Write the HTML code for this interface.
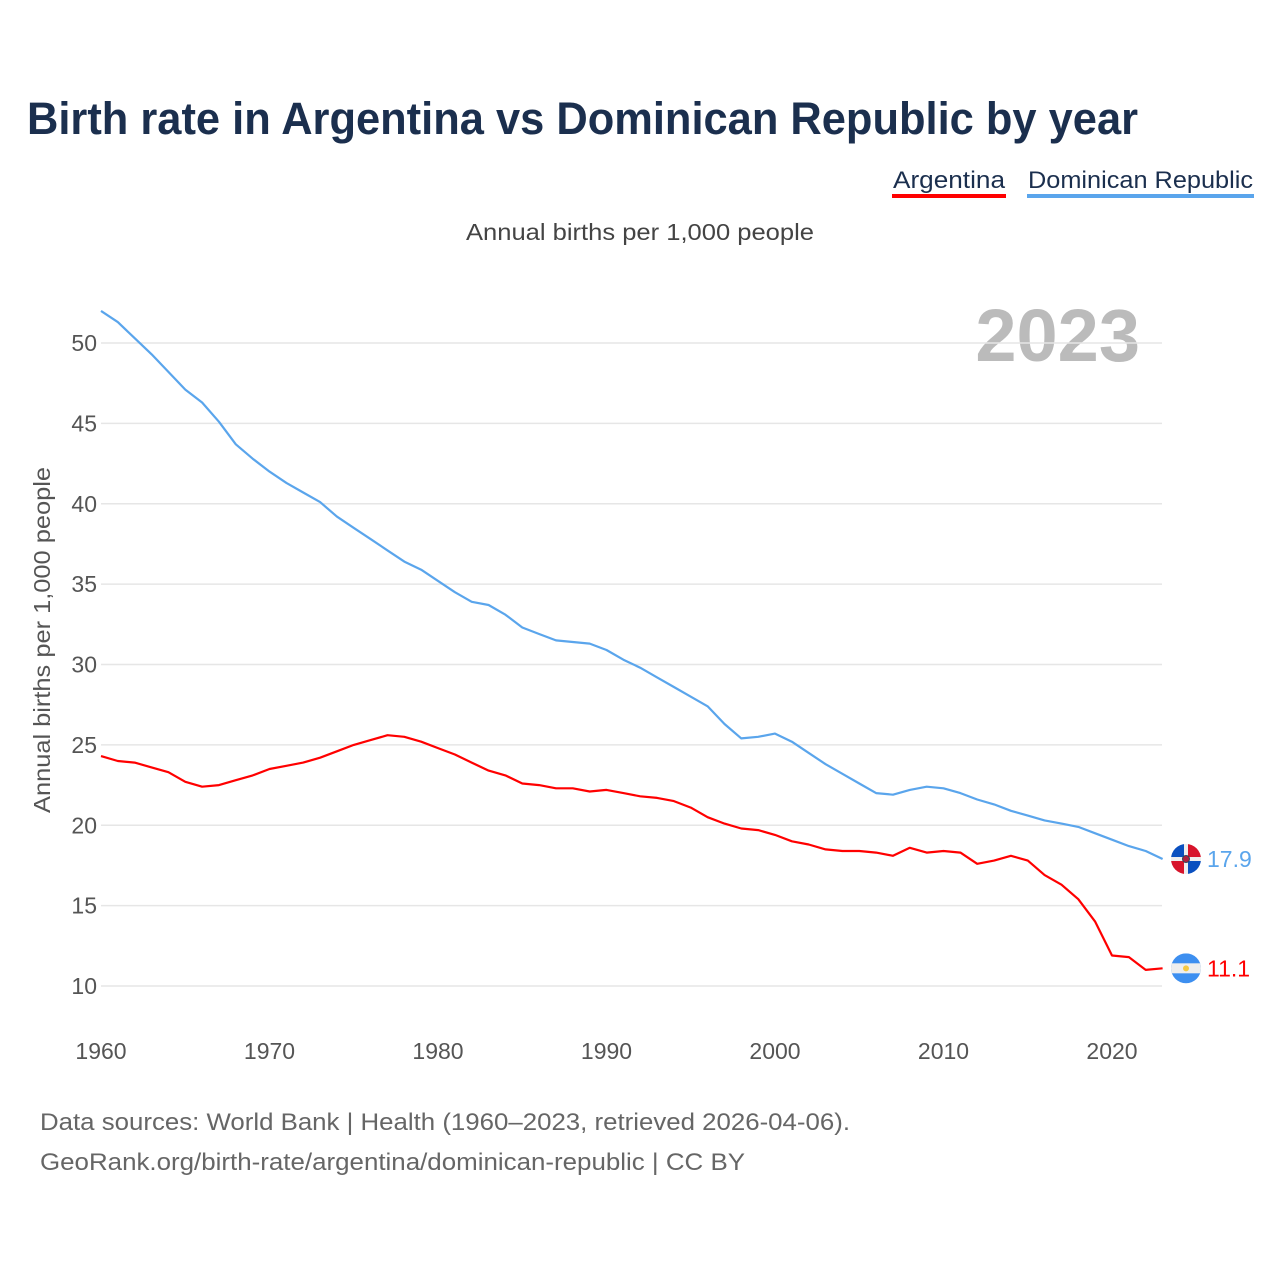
<!DOCTYPE html>
<html><head><meta charset="utf-8">
<style>
body{margin:0;background:#fff;font-family:"Liberation Sans",sans-serif;}
svg text{font-family:"Liberation Sans",sans-serif;}
</style></head>
<body>
<svg width="1280" height="1280" xmlns="http://www.w3.org/2000/svg">
<defs><clipPath id="fc1"><circle cx="1186" cy="0" r="15"/></clipPath></defs>
<text x="27" y="134" font-size="45" font-weight="bold" fill="#1b2f4e" textLength="1111" lengthAdjust="spacingAndGlyphs">Birth rate in Argentina vs Dominican Republic by year</text>
<g>
<text x="893" y="188" font-size="24" fill="#1b2f4e" textLength="112" lengthAdjust="spacingAndGlyphs">Argentina</text>
<rect x="892" y="194" width="114" height="4" fill="#ff0000"/></g>
<g>
<text x="1028" y="188" font-size="24" fill="#1b2f4e" textLength="225" lengthAdjust="spacingAndGlyphs">Dominican Republic</text>
<rect x="1027" y="194" width="227" height="4" fill="#5aa5ec"/></g>
<text x="466" y="240" font-size="23" fill="#444" textLength="348" lengthAdjust="spacingAndGlyphs">Annual births per 1,000 people</text>
<text x="1140" y="361" font-size="74" font-weight="bold" fill="#bbb" text-anchor="end">2023</text>
<text transform="translate(50,640) rotate(-90)" font-size="23" fill="#555" text-anchor="middle" textLength="346" lengthAdjust="spacingAndGlyphs">Annual births per 1,000 people</text>
<g id="grid"></g><g id="xt"></g><g id="lines"></g>
<g>
<text x="40" y="1130" font-size="24" fill="#666" textLength="810" lengthAdjust="spacingAndGlyphs">Data sources: World Bank | Health (1960–2023, retrieved 2026-04-06).</text>
<text x="40" y="1170" font-size="24" fill="#666" textLength="705" lengthAdjust="spacingAndGlyphs">GeoRank.org/birth-rate/argentina/dominican-republic | CC BY</text></g>
</svg>
<script>
const years=[];for(let y=1960;y<=2023;y++)years.push(y);
const yTicks=[10,15,20,25,30,35,40,45,50];
const xTicks=[1960,1970,1980,1990,2000,2010,2020];
const argentina=[24.3,24.0,23.9,23.6,23.3,22.7,22.4,22.5,22.8,23.1,23.5,23.7,23.9,24.2,24.6,25.0,25.3,25.6,25.5,25.2,24.8,24.4,23.9,23.4,23.1,22.6,22.5,22.3,22.3,22.1,22.2,22.0,21.8,21.7,21.5,21.1,20.5,20.1,19.8,19.7,19.4,19.0,18.8,18.5,18.4,18.4,18.3,18.1,18.6,18.3,18.4,18.3,17.6,17.8,18.1,17.8,16.9,16.3,15.4,14.0,11.9,11.8,11.0,11.1];
const dominican=[52.0,51.3,50.3,49.3,48.2,47.1,46.3,45.1,43.7,42.8,42.0,41.3,40.7,40.1,39.2,38.5,37.8,37.1,36.4,35.9,35.2,34.5,33.9,33.7,33.1,32.3,31.9,31.5,31.4,31.3,30.9,30.3,29.8,29.2,28.6,28.0,27.4,26.3,25.4,25.5,25.7,25.2,24.5,23.8,23.2,22.6,22.0,21.9,22.2,22.4,22.3,22.0,21.6,21.3,20.9,20.6,20.3,20.1,19.9,19.5,19.1,18.7,18.4,17.9];
const NS="http://www.w3.org/2000/svg";
const X=y=>101+(y-1960)*(1011/60);
const Y=v=>986-(v-10)*(643/40);
function mk(t,a,p){const e=document.createElementNS(NS,t);for(const k in a)e.setAttribute(k,a[k]);p.appendChild(e);return e;}
const grid=document.getElementById('grid');
yTicks.forEach(v=>{
 const l=mk('line',{x1:101,x2:1162,y1:Y(v),y2:Y(v),stroke:'#e6e6e6','stroke-width':1.5},grid);
 
 
 const t=mk('text',{x:97,y:Y(v)+8,'font-size':23,fill:'#555','text-anchor':'end'},grid);
 t.textContent=v;
 
 
});
const xt=document.getElementById('xt');
xTicks.forEach(v=>{
 const t=mk('text',{x:X(v),y:1059,'font-size':23,fill:'#555','text-anchor':'middle'},xt);
 t.textContent=v;
 
 
});
const lines=document.getElementById('lines');
function series(data,color,name){
 const d=data.map((v,i)=>(i?'L':'M')+X(years[i]).toFixed(1)+' '+Y(v).toFixed(1)).join(' ');
 const p=mk('path',{d:d,fill:'none',stroke:color,'stroke-width':2.2,'stroke-linejoin':'round'},lines);
 
 
 const last=data[data.length-1];
 const cy=Y(last);
 const g=mk('g',{transform:`translate(0,${cy})`},lines);
 
 
 const c=mk('g',{'clip-path':'url(#fc1)'},g);
 if(name==='argentina'){
  mk('rect',{x:1171,y:-15,width:30,height:30,fill:'#3d8ff0'},c);
  mk('rect',{x:1171,y:-5,width:30,height:10,fill:'#eee'},c);
  mk('circle',{cx:1186,cy:0,r:3,fill:'#f5c842'},c);
 }else{
  mk('rect',{x:1171,y:-15,width:30,height:30,fill:'#eee'},c);
  mk('rect',{x:1171,y:-15,width:13,height:13,fill:'#0a50c0'},c);
  mk('rect',{x:1188,y:-15,width:13,height:13,fill:'#d7142b'},c);
  mk('rect',{x:1171,y:2,width:13,height:13,fill:'#d7142b'},c);
  mk('rect',{x:1188,y:2,width:13,height:13,fill:'#0a50c0'},c);
  mk('circle',{cx:1186,cy:0,r:3.5,fill:'#b02040',stroke:'#345','stroke-width':1},c);
 }
 const t=mk('text',{x:1207,y:cy+8,'font-size':23,fill:color},lines);
 t.textContent=last.toFixed(1);
 
 
}
series(dominican,'#5aa5ec','dominican-republic');
series(argentina,'#ff0000','argentina');
</script>
</body></html>
